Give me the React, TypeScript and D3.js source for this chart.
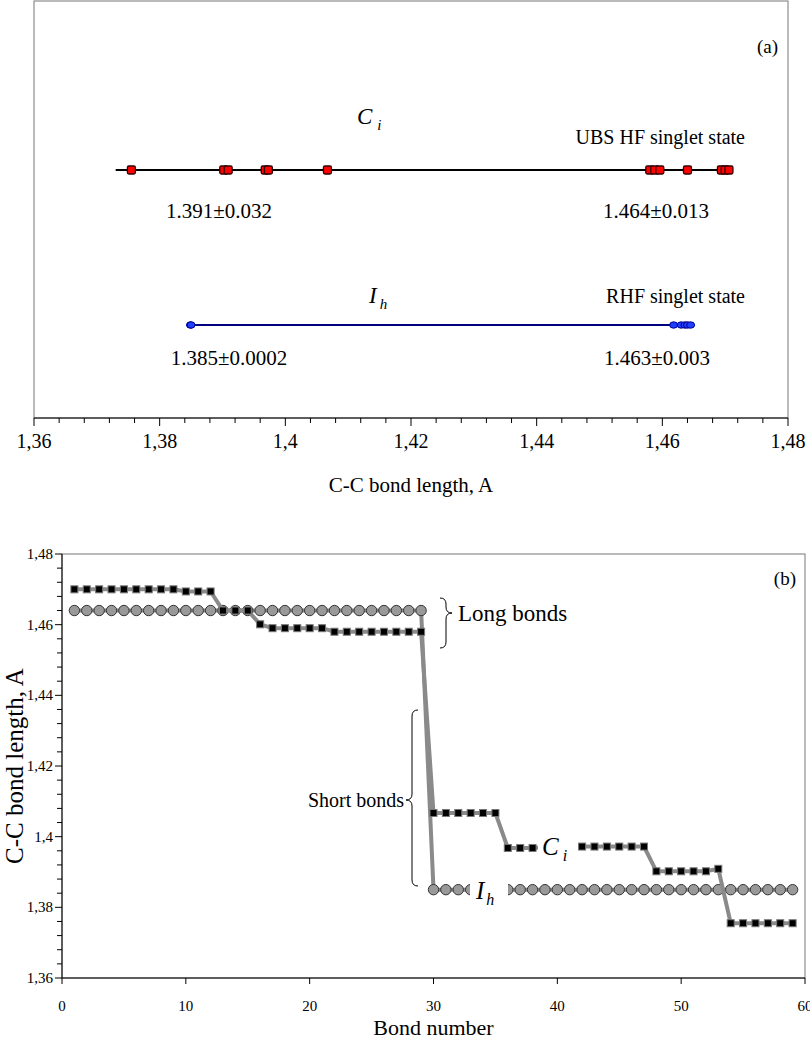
import React from "react";
import * as d3 from "d3";

// Panel (a): distinct C–C bond lengths (Å) for each structure
const ciLengthsA = [1.3755, 1.3902, 1.3909, 1.3968, 1.3973, 1.4067, 1.458, 1.4588, 1.4596, 1.464, 1.4694, 1.47, 1.4706];
const ciSpanA = [1.373, 1.4706];
const ihLengthsA = [1.3849, 1.385, 1.4618, 1.463, 1.4636, 1.464, 1.4645];
const ciLabelsA = ["1.391±0.032", "1.464±0.013"];
const ihLabelsA = ["1.385±0.0002", "1.463±0.003"];
const ticksA = [1.36, 1.38, 1.4, 1.42, 1.44, 1.46, 1.48];

// Panel (b): bond length per bond number 1..59
const bondNumbers = d3.range(1, 60);
const ciSeries = [
  1.47, 1.47, 1.47, 1.47, 1.47, 1.47, 1.47, 1.47, 1.47, 1.4694, 1.4694, 1.4694,
  1.464, 1.464, 1.464,
  1.4601,
  1.459, 1.459, 1.459, 1.459, 1.459,
  1.458, 1.458, 1.458, 1.458, 1.458, 1.458, 1.458, 1.458,
  1.4067, 1.4067, 1.4067, 1.4067, 1.4067, 1.4067,
  1.3968, 1.3968, 1.3968, 1.397, 1.397, 1.397, 1.3972, 1.3972, 1.3972, 1.3972, 1.3972, 1.3972,
  1.3902, 1.3902, 1.3902, 1.3902, 1.3902, 1.3909,
  1.3755, 1.3755, 1.3755, 1.3755, 1.3755, 1.3755,
];
const ihSeries = [
  1.464, 1.464, 1.464, 1.464, 1.464, 1.464, 1.464, 1.464, 1.464, 1.464,
  1.464, 1.464, 1.464, 1.464, 1.464, 1.464, 1.464, 1.464, 1.464, 1.464,
  1.464, 1.464, 1.464, 1.464, 1.464, 1.464, 1.464, 1.464, 1.464,
  1.385, 1.385, 1.385, 1.385, 1.385, 1.385, 1.385, 1.385, 1.385, 1.385,
  1.385, 1.385, 1.385, 1.385, 1.385, 1.385, 1.385, 1.385, 1.385, 1.385,
  1.385, 1.385, 1.385, 1.385, 1.385, 1.385, 1.385, 1.385, 1.385, 1.385,
];
const yTicksB = [1.36, 1.38, 1.4, 1.42, 1.44, 1.46, 1.48];
const xTicksB = [0, 10, 20, 30, 40, 50, 60];

const FONT = "'Liberation Serif', 'Times New Roman', serif";

const comma = (v: number) => String(+v.toFixed(3)).replace(".", ",");

function T(props: {
  x: number; y: number; size: number; anchor?: "start" | "middle" | "end";
  italic?: boolean; children: React.ReactNode; rotate?: number;
}) {
  const { x, y, size, anchor = "start", italic, children, rotate } = props;
  return (
    <text
      transform={`translate(${x},${y})${rotate ? ` rotate(${rotate})` : ""}`}
      fontFamily={FONT}
      fontSize={size}
      fontStyle={italic ? "italic" : "normal"}
      textAnchor={anchor}
      fill="#000"
    >
      {children}
    </text>
  );
}

export default function App() {
  // ---------- panel (a) ----------
  const xA = d3.scaleLinear().domain([1.36, 1.48]).range([34, 788]);
  const boxTopA = 1;
  const axisYA = 418;
  const rowCi = 170;
  const rowIh = 325;
  const minorA = d3.range(0, 31).map((i) => 1.36 + i * 0.004);

  // ---------- panel (b) ----------
  const xB = d3.scaleLinear().domain([0, 60]).range([62, 805]);
  const yB = d3.scaleLinear().domain([1.36, 1.48]).range([978, 554]);
  const minorB = d3.range(0, 31).map((i) => 1.36 + i * 0.004);
  const lineB = d3
    .line<number>()
    .x((_, i) => xB(bondNumbers[i]))
    .y((d) => yB(d));

  return (
    <svg width={810} height={1039} style={{ display: "block", position: "absolute", left: 0, top: 0 }}>
      <rect width={810} height={1039} fill="#fff" />

      {/* ===== Panel (a) ===== */}
      <rect x={xA(1.36)} y={boxTopA} width={xA(1.48) - xA(1.36)} height={axisYA - boxTopA} fill="none" stroke="#777" strokeWidth={1} />
      <line x1={xA(1.36)} x2={xA(1.48)} y1={axisYA} y2={axisYA} stroke="#000" strokeWidth={1} />
      {minorA.map((t, i) => (
        <line key={i} x1={xA(t)} x2={xA(t)} y1={axisYA} y2={axisYA + (i % 5 === 0 ? 8 : 5)} stroke="#000" strokeWidth={1} />
      ))}
      {ticksA.map((t) => (
        <T key={t} x={xA(t)} y={axisYA + 30} size={20} anchor="middle">{comma(t)}</T>
      ))}
      <T x={(xA(1.36) + xA(1.48)) / 2} y={axisYA + 74} size={21} anchor="middle">C-C bond length, A</T>
      <T x={778} y={53} size={19} anchor="end">(a)</T>

      {/* C_i row */}
      <T x={357} y={124} size={23} italic>C<tspan dx={5} dy={6} fontSize={15}>i</tspan></T>
      <T x={745} y={144} size={20} anchor="end">UBS HF singlet state</T>
      <line x1={xA(ciSpanA[0])} x2={xA(ciSpanA[1])} y1={rowCi} y2={rowCi} stroke="#000" strokeWidth={2} />
      {ciLengthsA.map((v, i) => (
        <rect key={i} x={xA(v) - 4} y={rowCi - 4} width={8} height={8} rx={1.5} fill="#ff0000" stroke="#300" strokeWidth={1.3} />
      ))}
      <T x={219} y={218} size={21} anchor="middle">{ciLabelsA[0]}</T>
      <T x={656} y={218} size={21} anchor="middle">{ciLabelsA[1]}</T>

      {/* I_h row */}
      <T x={369} y={303} size={23} italic>I<tspan dx={3} dy={6} fontSize={15}>h</tspan></T>
      <T x={745} y={303} size={20} anchor="end">RHF singlet state</T>
      <line x1={xA(d3.min(ihLengthsA)!)} x2={xA(d3.max(ihLengthsA)!)} y1={rowIh} y2={rowIh} stroke="#000080" strokeWidth={2} />
      {ihLengthsA.map((v, i) => (
        <ellipse key={i} cx={xA(v)} cy={rowIh} rx={4} ry={3.2} fill="#1f3fff" stroke="#000090" strokeWidth={1} />
      ))}
      <T x={229} y={365} size={21} anchor="middle">{ihLabelsA[0]}</T>
      <T x={657} y={365} size={21} anchor="middle">{ihLabelsA[1]}</T>

      {/* ===== Panel (b) ===== */}
      <rect x={xB(0)} y={yB(1.48)} width={xB(60) - xB(0)} height={yB(1.36) - yB(1.48)} fill="none" stroke="#777" strokeWidth={1} />
      <line x1={xB(0)} x2={xB(0)} y1={yB(1.48)} y2={yB(1.36)} stroke="#000" strokeWidth={1} />
      <line x1={xB(0)} x2={xB(60)} y1={yB(1.36)} y2={yB(1.36)} stroke="#000" strokeWidth={1} />
      {minorB.map((t, i) => (
        <line key={i} x1={xB(0) - (i % 5 === 0 ? 7 : 5)} x2={xB(0)} y1={yB(t)} y2={yB(t)} stroke="#000" strokeWidth={1} />
      ))}
      {yTicksB.map((t) => (
        <T key={t} x={53} y={yB(t) + 5} size={15} anchor="end">{comma(t)}</T>
      ))}
      {xTicksB.map((t) => (
        <g key={t}>
          <line x1={xB(t)} x2={xB(t)} y1={yB(1.36)} y2={yB(1.36) + 6} stroke="#000" strokeWidth={1} />
          <T x={xB(t)} y={yB(1.36) + 33} size={15} anchor="middle">{t}</T>
        </g>
      ))}
      <T x={(xB(0) + xB(60)) / 2} y={1035} size={22} anchor="middle">Bond number</T>
      <T x={23} y={(yB(1.36) + yB(1.48)) / 2} size={25} anchor="middle" rotate={-90}>C-C bond length, A</T>
      <T x={796} y={585} size={19} anchor="end">(b)</T>

      {/* I_h series */}
      <path d={lineB(ihSeries) ?? ""} fill="none" stroke="#8a8a8a" strokeWidth={4} />
      {ihSeries.map((v, i) => (
        <circle key={i} cx={xB(bondNumbers[i])} cy={yB(v)} r={5.2} fill="#999" stroke="#333" strokeWidth={1} />
      ))}

      {/* C_i series */}
      <path d={lineB(ciSeries) ?? ""} fill="none" stroke="#8a8a8a" strokeWidth={4} />
      {ciSeries.map((v, i) => (
        <rect key={i} x={xB(bondNumbers[i]) - 3.5} y={yB(v) - 3.5} width={7} height={7} fill="#000" stroke="#777" strokeWidth={1} />
      ))}

      {/* series labels */}
      <rect x={538} y={yB(1.397) - 15} width={40} height={28} fill="#fff" />
      <T x={542} y={yB(1.397) + 8} size={25} italic>C<tspan dx={4} dy={6} fontSize={16}>i</tspan></T>
      <rect x={470} y={yB(1.385) - 15} width={38} height={30} fill="#fff" />
      <T x={476} y={yB(1.385) + 9} size={25} italic>I<tspan dx={2} dy={6} fontSize={16}>h</tspan></T>

      {/* braces */}
      <path d="M440,598 Q446,598 446,604 L446,607 Q446,613 452,613 Q446,613 446,619 L446,642 Q446,648 440,648" fill="none" stroke="#000" strokeWidth={1} />
      <T x={458} y={621} size={23}>Long bonds</T>
      <path d="M418,710 Q412,710 412,716 L412,794 Q412,800 406,800 Q412,800 412,806 L412,880 Q412,886 418,886" fill="none" stroke="#000" strokeWidth={1} />
      <T x={404} y={807} size={20} anchor="end">Short bonds</T>
    </svg>
  );
}
